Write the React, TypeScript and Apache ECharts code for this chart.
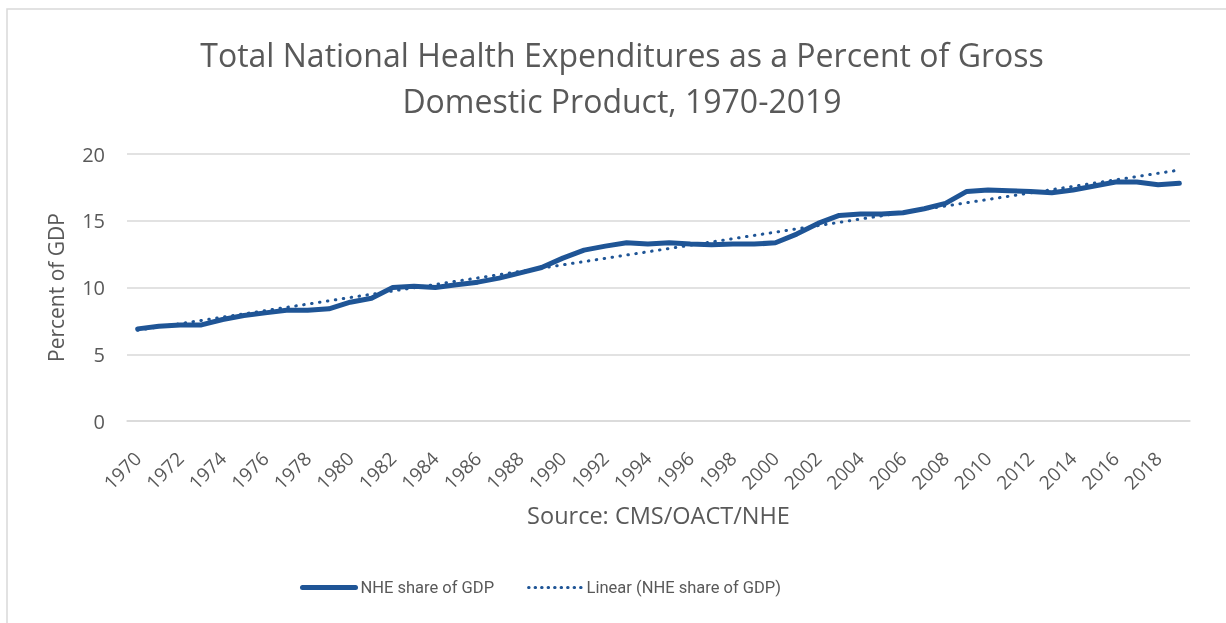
import React, { useEffect, useRef } from "react";
import * as echarts from "echarts";

const years: string[] = [
  "1970","1971","1972","1973","1974","1975","1976","1977","1978","1979",
  "1980","1981","1982","1983","1984","1985","1986","1987","1988","1989",
  "1990","1991","1992","1993","1994","1995","1996","1997","1998","1999",
  "2000","2001","2002","2003","2004","2005","2006","2007","2008","2009",
  "2010","2011","2012","2013","2014","2015","2016","2017","2018","2019",
];

const nheShare: number[] = [
  6.9, 7.1, 7.2, 7.2, 7.6, 7.9, 8.1, 8.3, 8.3, 8.4,
  8.9, 9.2, 10.0, 10.1, 10.0, 10.2, 10.4, 10.7, 11.1, 11.5,
  12.2, 12.8, 13.1, 13.35, 13.25, 13.35, 13.25, 13.2, 13.25, 13.25,
  13.35, 14.0, 14.8, 15.4, 15.5, 15.5, 15.6, 15.9, 16.3, 17.2,
  17.3, 17.25, 17.2, 17.1, 17.3, 17.6, 17.9, 17.9, 17.7, 17.8,
];

// trendline endpoints
const trendStart = 6.8;
const trendEnd = 18.8;

const yTicks = { min: 0, max: 20, interval: 5 };

const COLOR = "#1F5596";
const TEXT = "#595959";
const FONT = "'Open Sans', sans-serif";
const LEGEND_FONT = "Roboto, 'Open Sans', sans-serif";

export default function App() {
  const ref = useRef<HTMLDivElement>(null);
  useEffect(() => {
    if (!ref.current) return;
    const chart = echarts.init(ref.current, undefined, { renderer: "svg" });
    chart.setOption({
      animation: false,
      textStyle: { fontFamily: FONT, color: TEXT },
      graphic: [
        {
          type: "rect",
          shape: { x: 7, y: 9, width: 1240, height: 640 },
          style: { fill: "none", stroke: "#d9d9d9", lineWidth: 1.5 },
          silent: true,
        },
      ],
      title: {
        text: "Total National Health Expenditures as a Percent of Gross\nDomestic Product, 1970-2019",
        left: 617,
        textAlign: "center",
        top: 26,
        textStyle: {
          fontFamily: FONT,
          fontSize: 32,
          fontWeight: "normal",
          color: TEXT,
          lineHeight: 46,
        },
      },
      legend: {
        left: 295,
        top: 574,
        itemWidth: 53,
        itemHeight: 14,
        itemGap: 33,
        itemStyle: { opacity: 0 },
        textStyle: { fontFamily: LEGEND_FONT, fontSize: 16.5, color: TEXT },
        data: [
          { name: "NHE share of GDP", lineStyle: { width: 5, cap: "round" } },
          { name: "Linear (NHE share of GDP)", lineStyle: { width: 3, cap: "round", type: [0.5, 6] } },
        ],
      },
      grid: { left: 127, right: 36, top: 154, bottom: 202 },
      xAxis: {
        type: "category",
        data: years,
        boundaryGap: true,
        name: "Source: CMS/OACT/NHE",
        nameLocation: "middle",
        nameGap: 82,
        nameTextStyle: { fontFamily: FONT, fontSize: 23.5, color: TEXT },
        axisLine: { lineStyle: { color: "#d9d9d9", width: 1.5 } },
        axisTick: { show: false },
        axisLabel: {
          interval: 1,
          rotate: 45,
          fontSize: 19,
          color: TEXT,
          fontFamily: FONT,
          margin: 34,
        },
      },
      yAxis: {
        type: "value",
        min: yTicks.min,
        max: yTicks.max,
        interval: yTicks.interval,
        name: "Percent of GDP",
        nameLocation: "middle",
        nameGap: 61,
        nameTextStyle: { fontFamily: FONT, fontSize: 21, color: TEXT },
        axisLine: { show: false },
        axisTick: { show: false },
        axisLabel: { fontSize: 20, color: TEXT, fontFamily: FONT, margin: 22 },
        splitLine: { lineStyle: { color: "#d9d9d9", width: 1.5 } },
      },
      series: [
        {
          name: "NHE share of GDP",
          type: "line",
          data: nheShare,
          symbol: "none",
          itemStyle: { color: COLOR },
          lineStyle: { color: COLOR, width: 5, cap: "round", join: "round" },
        },
        {
          name: "Linear (NHE share of GDP)",
          type: "line",
          data: [
            [years[0], trendStart],
            [years[years.length - 1], trendEnd],
          ],
          symbol: "none",
          itemStyle: { color: COLOR },
          lineStyle: { color: COLOR, width: 3, type: [0.5, 7.5], cap: "round" },
        },
      ],
    });
    return () => chart.dispose();
  }, []);
  return (
    <div
      ref={ref}
      style={{ position: "fixed", left: 0, top: 0, width: 1226, height: 623 }}
    />
  );
}
